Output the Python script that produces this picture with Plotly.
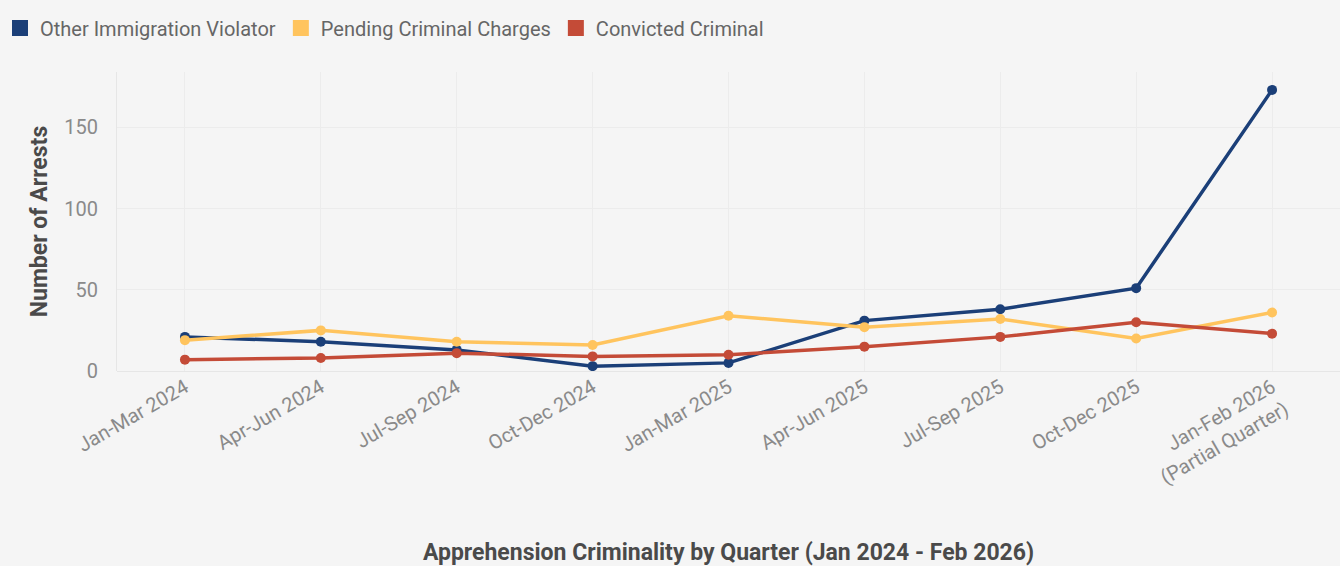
import plotly.graph_objects as go

quarters = ["Jan-Mar 2024", "Apr-Jun 2024", "Jul-Sep 2024", "Oct-Dec 2024",
            "Jan-Mar 2025", "Apr-Jun 2025", "Jul-Sep 2025", "Oct-Dec 2025",
            "Jan-Feb 2026<br>(Partial Quarter)"]
other_violator = [21, 18, 13, 3, 5, 31, 38, 51, 173]
pending_charges = [19, 25, 18, 16, 34, 27, 32, 20, 36]
convicted = [7, 8, 11, 9, 10, 15, 21, 30, 23]

series = [
    ("Other Immigration Violator", other_violator, "#1b3f78"),
    ("Pending Criminal Charges", pending_charges, "#ffc45e"),
    ("Convicted Criminal", convicted, "#c44b37"),
]

FONT = "Roboto, Arial, sans-serif"

fig = go.Figure()
for name, vals, col in series:
    fig.add_trace(go.Scatter(
        x=quarters, y=vals, name=name, mode="lines+markers",
        line=dict(color=col, width=3.5), marker=dict(color=col, size=10),
        showlegend=False,
    ))
for name, vals, col in series:
    fig.add_trace(go.Scatter(
        x=[None], y=[None], name=name, mode="markers",
        marker=dict(color=col, size=16, symbol="square"),
        showlegend=True,
    ))

fig.update_layout(
    width=1340, height=566,
    paper_bgcolor="#f5f5f5", plot_bgcolor="#f5f5f5",
    margin=dict(l=117, r=0, t=72, b=195),
    font=dict(family=FONT, color="#777777"),
    legend=dict(orientation="h", xref="container", yref="container",
                x=0.0, y=0.985, xanchor="left", yanchor="top",
                font=dict(size=20, color="#666666"),
                itemwidth=30, tracegroupgap=0, bgcolor="rgba(0,0,0,0)"),
    xaxis=dict(
        type="category", range=[-0.5, 8.5],
        tickangle=-30, tickfont=dict(size=20, color="#8a8a8a"),
        showgrid=True, gridcolor="#ececec", gridwidth=1,
        showline=False, zeroline=False, ticks="",
        title=dict(text="<b>Apprehension Criminality by Quarter (Jan 2024 - Feb 2026)</b>",
                   font=dict(size=23, color="#4a4a4a"), standoff=56),
    ),
    yaxis=dict(
        range=[0, 184], tickvals=[0, 50, 100, 150],
        tickfont=dict(size=20, color="#8a8a8a"),
        showgrid=True, gridcolor="#ececec", gridwidth=1,
        zeroline=True, zerolinecolor="#e6e6e6", zerolinewidth=1,
        showline=True, linecolor="#e6e6e6", linewidth=1,
        ticks="", ticklabelstandoff=14,
        title=dict(text="<b>Number of Arrests</b>",
                   font=dict(size=23, color="#4a4a4a"), standoff=10),
    ),
)

fig.write_html("out.html", config={"displayModeBar": False},
               post_script="document.body.style.margin='0';document.body.style.background='#f5f5f5';")
